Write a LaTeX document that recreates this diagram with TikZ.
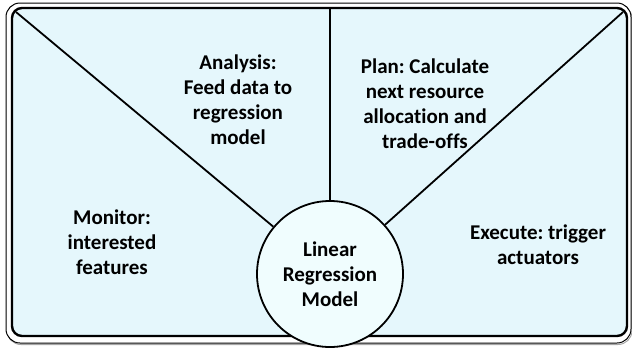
\documentclass[tikz,border=0pt]{standalone}
\usepackage{fontspec}
\setmainfont{Carlito}[Ligatures={NoCommon}]
\definecolor{panel}{HTML}{E5F7FC}
\definecolor{hub}{HTML}{F0FDFE}
\frenchspacing
\begin{document}
\begin{tikzpicture}[x=1pt,y=-1pt,
    lbl/.style={align=center, font=\fontsize{21}{25}\selectfont\bfseries},
    spoke/.style={line width=1.8pt}]
    \useasboundingbox (0,0) rectangle (632,349);
    \draw [gray!70, line width=1pt, rounded corners=14pt] (7,4.5) rectangle (632,344.5);
    \draw [fill=white, line width=1pt, rounded corners=14pt] (6,3) rectangle (631,343);
    \draw [fill=panel, line width=2.4pt, rounded corners=10pt] (12,8) rectangle (627,336);

    \coordinate (tl) at (16,12);
    \coordinate (tm) at (330,8);
    \coordinate (tr) at (623,12);
    \node [circle, draw, fill=hub, line width=1.8pt, minimum size=146pt, inner sep=0pt, lbl] (lrm) at (330,274) {Linear\\Regression\\Model};
    \draw [spoke] (tl) -- (lrm);
    \draw [spoke] (tm) -- (lrm);
    \draw [spoke] (tr) -- (lrm);

    \node [lbl] (monitor) at (112,242) {Monitor:\\interested\\features};
    \node [lbl] (analysis) at (238,100) {Analysis:\\Feed data to\\regression\\model};
    \node [lbl] (plan) at (425,104) {Plan: Calculate\\next resource\\allocation and\\trade-offs};
    \node [lbl] (execute) at (538,245) {Execute: trigger\\actuators};
\end{tikzpicture}
\end{document}
